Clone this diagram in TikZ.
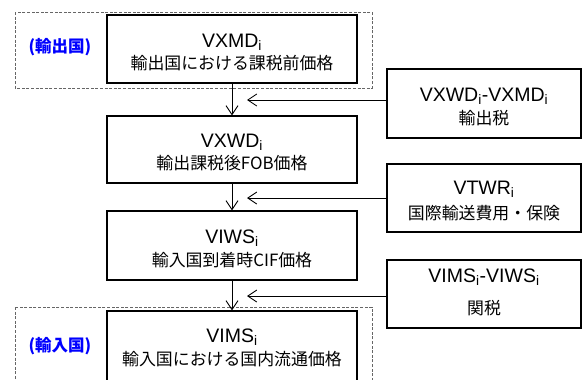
\documentclass[tikz,border=0pt]{standalone}
\usepackage{fontspec}
\setmainfont{Liberation Sans}
\newfontfamily\jpfont{Noto Sans CJK JP}
\usetikzlibrary{arrows.meta}
\begin{document}
\begin{tikzpicture}[x=1pt,y=-1pt,
  box/.style={draw=black,line width=1.1pt,minimum width=250pt,inner sep=0pt},
  rbox/.style={draw=black,line width=1.1pt,minimum width=194pt,minimum height=68pt,inner sep=0pt},
  grp/.style={draw=black!60,line width=0.8pt,dash pattern=on 3pt off 1.6pt},
  lat/.style={anchor=base,inner sep=0pt,font=\fontsize{19.5}{22}\selectfont},
  jp/.style={anchor=base,inner sep=0pt,font=\jpfont\fontsize{16.9}{18}\selectfont},
  blue lbl/.style={inner sep=0pt,text=blue,font=\jpfont\bfseries\fontsize{16.5}{18}\selectfont},
  arr/.style={line width=0.9pt,-{Straight Barb[length=9pt,width=12pt,line width=0.9pt]}}]
\useasboundingbox (0,0) rectangle (582,380);
\clip (0,0) rectangle (582,380);
% group frames
\draw[grp] (15,12) rectangle (372,88);
\draw[grp] (15,307) rectangle (372,400);
\node[blue lbl] (lblx) at (60,47) {(輸出国)};
\node[blue lbl] (lblm) at (60,346) {(輸入国)};
% main boxes
\node[box,minimum height=68pt] (b1) at (232,49) {};
\node[box,minimum height=67pt] (b2) at (232,149.5) {};
\node[box,minimum height=69pt] (b3) at (232,245.5) {};
\node[box,minimum height=75pt] (b4) at (232,348.5) {};
\node[lat] (t1a) at (232,47) {VXMD\textsubscript{i}};
\node[jp] (t1b) at (232,69) {輸出国における課税前価格};
\node[lat] (t2a) at (232,147) {VXWD\textsubscript{i}};
\node[jp] (t2b) at (232,169) {輸出課税後FOB価格};
\node[lat] (t3a) at (232,243.5) {VIWS\textsubscript{i}};
\node[jp] (t3b) at (232,266) {輸入国到着時CIF価格};
\node[lat] (t4a) at (232,342) {VIMS\textsubscript{i}};
\node[jp] (t4b) at (232,365) {輸入国における国内流通価格};
% right boxes
\node[rbox,minimum height=69pt] (ra) at (484,103.5) {};
\node[rbox,minimum height=68pt] (rb) at (484,198) {};
\node[rbox,minimum height=68pt] (rc) at (484,294) {};
\node[lat] (tAa) at (484,101) {VXWD\textsubscript{i}-VXMD\textsubscript{i}};
\node[jp] (tAb) at (484,124) {輸出税};
\node[lat] (tBa) at (484,194.5) {VTWR\textsubscript{i}};
\node[jp] (tBb) at (484,219) {国際輸送費用・保険};
\node[lat] (tCa) at (484,282.5) {VIMS\textsubscript{i}-VIWS\textsubscript{i}};
\node[jp] (tCb) at (484,314) {関税};
% vertical flow arrows
\draw[arr] (b1.south) -- (b2.north);
\draw[arr] (b2.south) -- (b3.north);
\draw[arr] (b3.south) -- (b4.north);
% horizontal arrows
\coordinate (h1) at (247,100);
\coordinate (h2) at (247,198);
\coordinate (h3) at (247,296);
\draw[arr] (ra.west |- h1) -- (h1);
\draw[arr] (rb.west |- h2) -- (h2);
\draw[arr] (rc.west |- h3) -- (h3);
\end{tikzpicture}
\end{document}
